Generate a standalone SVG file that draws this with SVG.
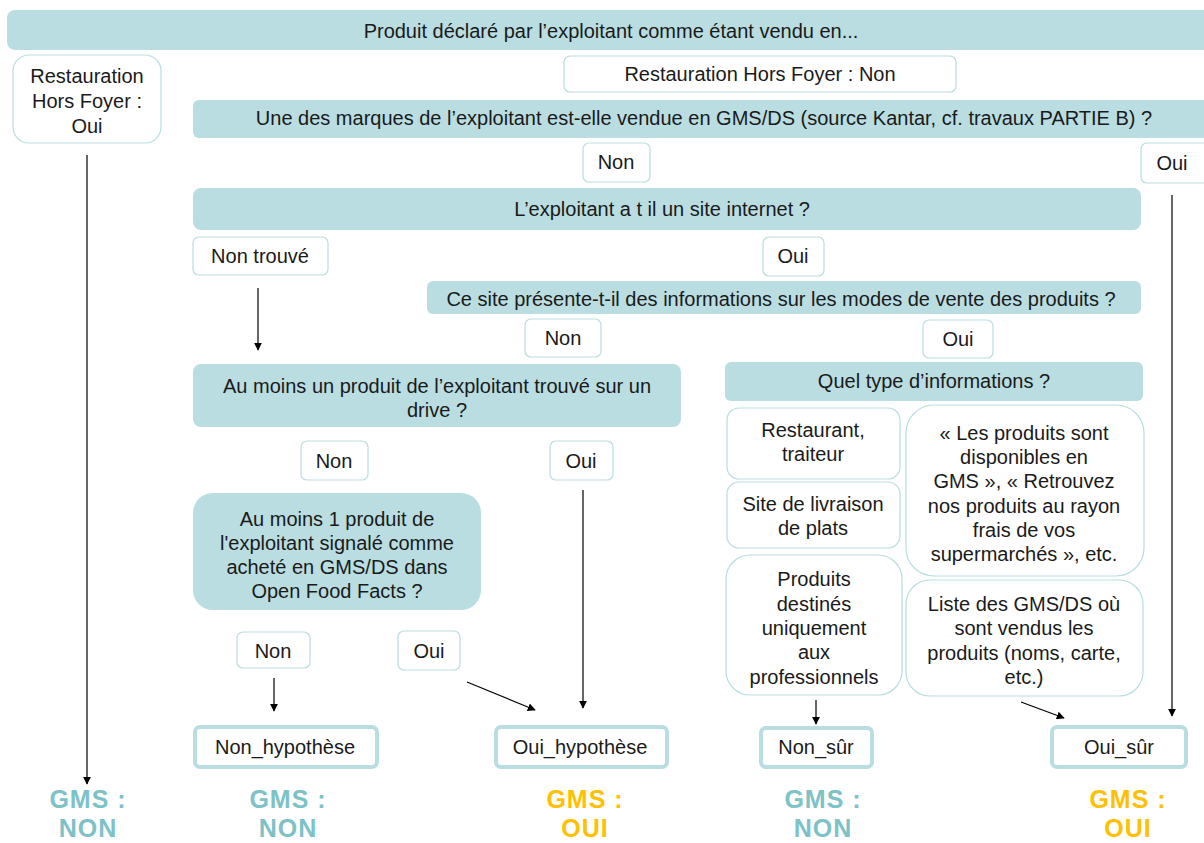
<svg xmlns="http://www.w3.org/2000/svg" width="1204" height="843" viewBox="0 0 1204 843">
<defs>
<marker id="ah" viewBox="0 0 10 10" refX="9" refY="5" markerWidth="8" markerHeight="8" markerUnits="userSpaceOnUse" orient="auto"><path d="M0,0 L10,5 L0,10 z" fill="#000"/></marker>
<style>
text{font-family:"Liberation Sans",Arial,sans-serif;font-size:20px;fill:#1a1a1a;text-anchor:middle;dominant-baseline:central}
.q{fill:#b9dde1;stroke:none}
.l{fill:#fff;stroke:#b9dde1;stroke-width:1.2}
.e{fill:#fff;stroke:#b9dde1;stroke-width:4}
.g{font-weight:bold;font-size:25px;letter-spacing:1px}
.gn{fill:#7cc2c7}
.go{fill:#ffc000}
.c{stroke:#000;stroke-width:1.2;fill:none;marker-end:url(#ah)}
</style>
</defs>
<rect width="1204" height="843" fill="#fff"/>
<g id="top"><rect class="q" x="7" y="10" width="1210" height="40" rx="8"/><text x="611" y="31">Produit déclaré par l’exploitant comme étant vendu en...</text></g>
<g id="rhf-oui"><rect class="l" x="13" y="55" width="148" height="88" rx="16"/><text x="87" y="76">Restauration</text><text x="87" y="101">Hors Foyer :</text><text x="87" y="126">Oui</text></g>
<g id="rhf-non"><rect class="l" x="564" y="56" width="392" height="36" rx="6"/><text x="760" y="74">Restauration Hors Foyer : Non</text></g>
<g id="q-marques"><rect class="q" x="193" y="100" width="1020" height="38" rx="6"/><text x="704" y="118">Une des marques de l’exploitant est-elle vendue en GMS/DS (source Kantar, cf. travaux PARTIE B) ?</text></g>
<g id="l-non1"><rect class="l" x="583" y="143" width="67" height="39" rx="6"/><text x="616" y="162">Non</text></g>
<g id="l-oui1"><rect class="l" x="1141" y="143" width="70" height="40" rx="6"/><text x="1172" y="163">Oui</text></g>
<g id="q-site"><rect class="q" x="193" y="188" width="948" height="42" rx="8"/><text x="662" y="209">L’exploitant a t il un site internet ?</text></g>
<g id="l-nontrouve"><rect class="l" x="193" y="237" width="135" height="38" rx="6"/><text x="260" y="256">Non trouvé</text></g>
<g id="l-oui2"><rect class="l" x="763" y="237" width="61" height="39" rx="6"/><text x="793" y="256">Oui</text></g>
<g id="q-modes"><rect class="q" x="427" y="281" width="714" height="33" rx="6"/><text x="781" y="299">Ce site présente-t-il des informations sur les modes de vente des produits ?</text></g>
<g id="l-non3"><rect class="l" x="525" y="319" width="76" height="38" rx="6"/><text x="563" y="338">Non</text></g>
<g id="l-oui3"><rect class="l" x="923" y="320" width="70" height="38" rx="6"/><text x="958" y="339">Oui</text></g>
<g id="q-drive"><rect class="q" x="193" y="364" width="488" height="63" rx="8"/><text x="437" y="386">Au moins un produit de l’exploitant trouvé sur un</text><text x="437" y="410">drive ?</text></g>
<g id="q-type"><rect class="q" x="725" y="362" width="418" height="39" rx="6"/><text x="934" y="381">Quel type d’informations ?</text></g>
<g id="l-non4"><rect class="l" x="301" y="441" width="67" height="39" rx="6"/><text x="334" y="461">Non</text></g>
<g id="l-oui4"><rect class="l" x="550" y="441" width="63" height="39" rx="6"/><text x="581" y="461">Oui</text></g>
<g id="q-off"><rect class="q" x="193" y="493" width="288" height="117" rx="20"/><text x="337" y="519">Au moins 1 produit de</text><text x="337" y="543">l'exploitant signalé comme</text><text x="337" y="567">acheté en GMS/DS dans</text><text x="337" y="591">Open Food Facts ?</text></g>
<g id="t-resto"><rect class="l" x="727" y="408" width="173" height="71" rx="12"/><text x="813" y="430">Restaurant,</text><text x="813" y="454">traiteur</text></g>
<g id="t-livraison"><rect class="l" x="727" y="482" width="173" height="66" rx="12"/><text x="813" y="504">Site de livraison</text><text x="813" y="528">de plats</text></g>
<g id="t-pro"><rect class="l" x="726" y="555" width="176" height="140" rx="24"/><text x="814" y="579">Produits</text><text x="814" y="604">destinés</text><text x="814" y="628">uniquement</text><text x="814" y="652">aux</text><text x="814" y="677">professionnels</text></g>
<g id="t-gms"><rect class="l" x="906" y="405" width="238" height="171" rx="28"/><text x="1024" y="433">« Les produits sont</text><text x="1024" y="457">disponibles en</text><text x="1024" y="481">GMS », « Retrouvez</text><text x="1024" y="506">nos produits au rayon</text><text x="1024" y="530">frais de vos</text><text x="1024" y="554">supermarchés », etc.</text></g>
<g id="t-liste"><rect class="l" x="906" y="580" width="237" height="116" rx="24"/><text x="1024" y="604">Liste des GMS/DS où</text><text x="1024" y="628">sont vendus les</text><text x="1024" y="653">produits (noms, carte,</text><text x="1024" y="677">etc.)</text></g>
<g id="l-non5"><rect class="l" x="237" y="632" width="73" height="36" rx="6"/><text x="273" y="651">Non</text></g>
<g id="l-oui5"><rect class="l" x="398" y="631" width="62" height="39" rx="6"/><text x="429" y="651">Oui</text></g>
<g id="e-nonhyp"><rect class="e" x="195" y="727" width="182" height="40" rx="5"/><text x="285" y="747">Non_hypothèse</text></g>
<g id="e-ouihyp"><rect class="e" x="496" y="727" width="171" height="40" rx="5"/><text x="580" y="747">Oui_hypothèse</text></g>
<g id="e-nonsur"><rect class="e" x="761" y="728" width="111" height="39" rx="5"/><text x="816" y="747">Non_sûr</text></g>
<g id="e-ouisur"><rect class="e" x="1052" y="727" width="134" height="40" rx="5"/><text x="1119" y="747">Oui_sûr</text></g>
<g id="r1"><text class="g gn" x="88" y="799">GMS :</text><text class="g gn" x="88" y="828">NON</text></g>
<g id="r2"><text class="g gn" x="288" y="799">GMS :</text><text class="g gn" x="288" y="828">NON</text></g>
<g id="r3"><text class="g go" x="585" y="799">GMS :</text><text class="g go" x="585" y="828">OUI</text></g>
<g id="r4"><text class="g gn" x="823" y="799">GMS :</text><text class="g gn" x="823" y="828">NON</text></g>
<g id="r5"><text class="g go" x="1128" y="799">GMS :</text><text class="g go" x="1128" y="828">OUI</text></g>
<g id="connectors">
<line class="c" x1="87" y1="155" x2="87" y2="784"/>
<line class="c" x1="258" y1="288" x2="258" y2="350"/>
<line class="c" x1="583" y1="490" x2="583" y2="708"/>
<line class="c" x1="274" y1="678" x2="274" y2="711"/>
<line class="c" x1="467" y1="682" x2="535" y2="710"/>
<line class="c" x1="816" y1="700" x2="816" y2="724"/>
<line class="c" x1="1021" y1="702" x2="1064" y2="718"/>
<line class="c" x1="1172" y1="195" x2="1172" y2="716"/>
</g>
</svg>
